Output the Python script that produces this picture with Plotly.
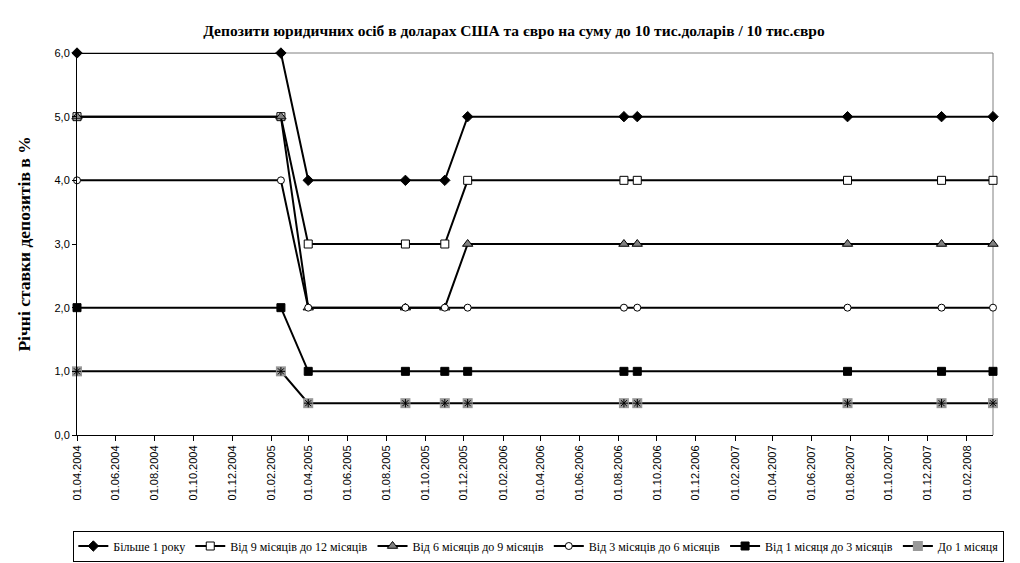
import plotly.graph_objects as go

dates = ["2004-04-01", "2005-02-16", "2005-03-31", "2005-08-31", "2005-11-01",
         "2005-12-07", "2006-08-10", "2006-08-31", "2007-07-28", "2007-12-23", "2008-03-13"]

s_more1y = [6, 6, 4, 4, 4, 5, 5, 5, 5, 5, 5]
s_9_12 = [5, 5, 3, 3, 3, 4, 4, 4, 4, 4, 4]
s_6_9 = [5, 5, 2, 2, 2, 3, 3, 3, 3, 3, 3]
s_3_6 = [4, 4, 2, 2, 2, 2, 2, 2, 2, 2, 2]
s_1_3 = [2, 2, 1, 1, 1, 1, 1, 1, 1, 1, 1]
s_to1 = [1, 1, 0.5, 0.5, 0.5, 0.5, 0.5, 0.5, 0.5, 0.5, 0.5]

names = ["Більше 1 року", "Від 9 місяців до 12 місяців", "Від 6 місяців до 9 місяців",
         "Від 3 місяців до 6 місяців", "Від 1 місяця до 3 місяців", "До 1 місяця"]

tick_dates = ["2004-04-01", "2004-06-01", "2004-08-01", "2004-10-01", "2004-12-01",
              "2005-02-01", "2005-04-01", "2005-06-01", "2005-08-01", "2005-10-01",
              "2005-12-01", "2006-02-01", "2006-04-01", "2006-06-01", "2006-08-01",
              "2006-10-01", "2006-12-01", "2007-02-01", "2007-04-01", "2007-06-01",
              "2007-08-01", "2007-10-01", "2007-12-01", "2008-02-01"]
tick_text = [d[8:10] + "." + d[5:7] + "." + d[0:4] for d in tick_dates]

series = [s_more1y, s_9_12, s_6_9, s_3_6, s_1_3, s_to1]
markers = [
    dict(symbol="diamond", size=8, color="black", line=dict(color="black", width=1)),
    dict(symbol="square", size=8, color="white", line=dict(color="black", width=1)),
    dict(symbol="triangle-up", size=9, color="#808080", line=dict(color="black", width=1)),
    dict(symbol="circle", size=7, color="white", line=dict(color="black", width=1)),
    dict(symbol="square", size=8, color="black", line=dict(color="black", width=1)),
    dict(symbol="square", size=10, color="#999999", line=dict(color="#999999", width=0)),
]

fig = go.Figure()
for name, ys, mk in zip(names, series, markers):
    fig.add_trace(go.Scatter(x=dates, y=ys, name=name, mode="lines+markers",
                             line=dict(color="black", width=2), marker=mk,
                             legendgroup=name, cliponaxis=False))
fig.add_trace(go.Scatter(x=dates, y=s_to1, mode="markers", showlegend=False,
                         legendgroup=names[5], cliponaxis=False,
                         marker=dict(symbol="asterisk-open", size=7, color="black",
                                     line=dict(color="black", width=1))))

SERIF = "Liberation Serif, Times New Roman, serif"
fig.update_layout(
    width=1012, height=555,
    margin=dict(l=69, r=27, t=45, b=128, autoexpand=False),
    paper_bgcolor="white", plot_bgcolor="white",
    separators=", ",
    title=dict(text="<b>Депозити юридичних осіб в доларах США та євро на суму до 10 тис.доларів / 10 тис.євро</b>",
               x=0.5, xref="container", xanchor="center", y=0.96, yanchor="middle",
               automargin=False,
               font=dict(family=SERIF, size=15.5, color="black")),
    font=dict(family="Liberation Sans", size=11, color="black"),
    legend=dict(orientation="h", x=-0.004, xanchor="left", y=-0.25, yanchor="top",
                bordercolor="black", borderwidth=1, bgcolor="white",
                font=dict(family=SERIF, size=12, color="black"),
                tracegroupgap=0, itemwidth=30),
    showlegend=True,
)
fig.update_xaxes(type="date", range=[dates[0], dates[-1]], automargin=False,
                 tickmode="array", tickvals=tick_dates, ticktext=tick_text,
                 tickangle=-90, ticks="outside", ticklen=5, tickcolor="black",
                 showline=True, linecolor="black", linewidth=1, showgrid=False,
                 zeroline=False, tickfont=dict(family="Liberation Sans", size=11))
fig.update_yaxes(range=[0, 6], dtick=1, tickformat=".1f", ticks="outside", ticklen=4,
                 tickcolor="black", showline=True, linecolor="black", linewidth=1,
                 showgrid=False, zeroline=False, automargin=False,
                 title=dict(text="<b>Річні ставки депозитів в %</b>", standoff=19,
                            font=dict(family=SERIF, size=17.5, color="black")),
                 tickfont=dict(family="Liberation Sans", size=11))
fig.add_shape(type="line", xref="paper", yref="paper", x0=0, x1=1, y0=1, y1=1,
              line=dict(color="#808080", width=1), layer="below")
fig.add_shape(type="line", xref="paper", yref="paper", x0=1, x1=1, y0=0, y1=1,
              line=dict(color="#808080", width=1), layer="below")

fig.write_html("out.html")
